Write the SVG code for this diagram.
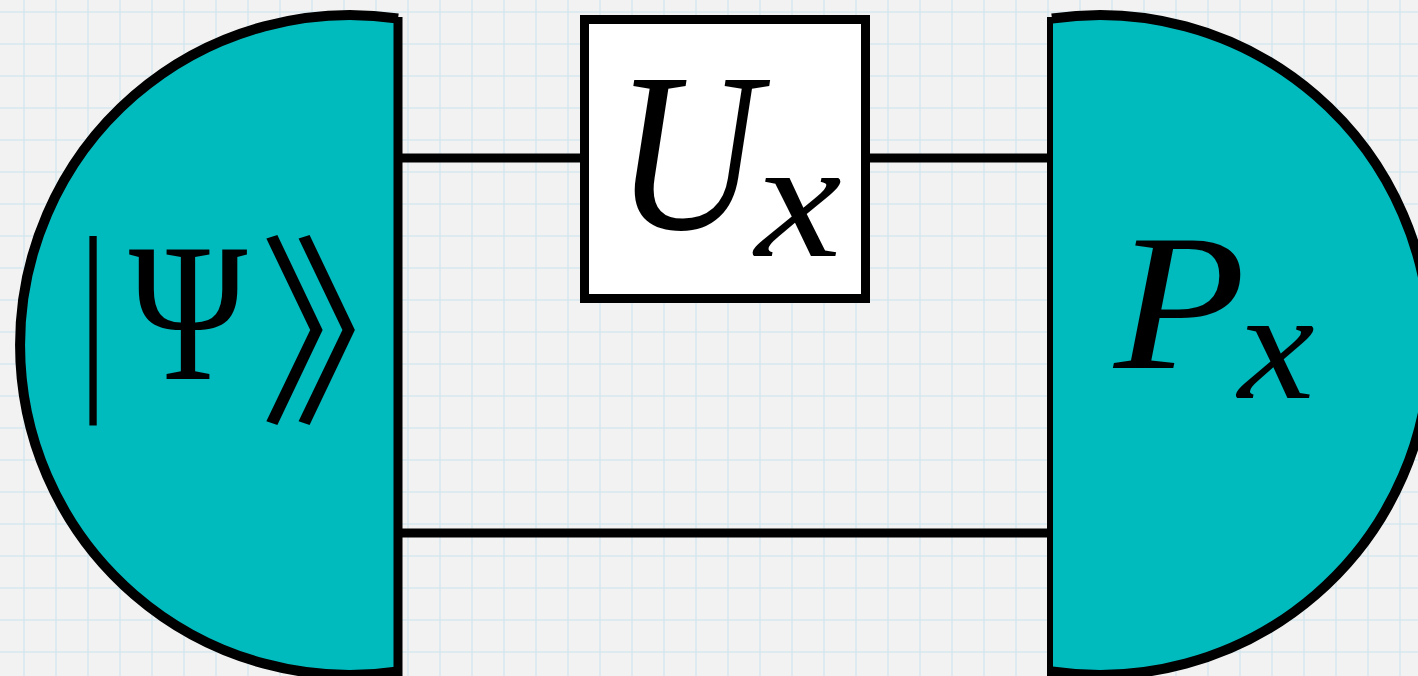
<svg xmlns="http://www.w3.org/2000/svg" width="1418" height="676" viewBox="0 0 1418 676">
<style>
.teal{fill:#00bbbe;stroke:none}
.edge{fill:none;stroke:#000;stroke-width:10}
.wire{stroke:#000;stroke-width:9;fill:none}
.math{font-family:"Liberation Serif","DejaVu Serif",serif;fill:#000}
.it{font-style:italic}
</style>
<defs>
<pattern id="grid" patternUnits="userSpaceOnUse" x="8" y="-4" width="32" height="32">
<path d="M16 0V32M0 16H32" stroke="#d6e7ee" stroke-width="1.5" fill="none"/>
</pattern>
</defs>
<rect width="1418" height="676" fill="#f2f2f2"/>
<rect width="1418" height="676" fill="url(#grid)"/>
<g id="connectors">
<line class="wire" x1="398" y1="158" x2="585" y2="158"/>
<line class="wire" x1="865" y1="158" x2="1052" y2="158"/>
<line class="wire" x1="398" y1="533" x2="1052" y2="533"/>
</g>
<g id="psi">
<path class="teal" d="M398,18.5 A330,330 0 1 0 398,671.5 Z"/>
<path class="edge" d="M398,18.5 A330,330 0 1 0 398,671.5"/>
<line x1="398" y1="17" x2="398" y2="676" stroke="#000" stroke-width="9"/>
<text transform="translate(93,383) scale(0.45,1)" font-size="202" text-anchor="middle" style="font-family:'Liberation Sans',sans-serif">|</text>
<text class="math" transform="translate(188,379) scale(0.82,1)" font-size="196" text-anchor="middle">Ψ</text>
<text x="361" y="408" font-size="204" text-anchor="middle" style="font-family:'Noto Sans CJK JP','Noto Sans CJK SC',sans-serif">》</text>
</g>
<g id="unitary">
<rect x="584.5" y="19.5" width="281" height="279" fill="#fff" stroke="#000" stroke-width="9"/>
<text class="math it" transform="translate(615,229) scale(0.88,1)" font-size="227">U</text>
<text class="math it" transform="translate(755,256) scale(1.15,1)" font-size="170">x</text>
</g>
<g id="measure">
<path class="teal" d="M1052,18.5 A330,330 0 1 1 1052,671.5 Z"/>
<path class="edge" d="M1052,18.5 A330,330 0 1 1 1052,671.5"/>
<line x1="1050" y1="17" x2="1050" y2="676" stroke="#000" stroke-width="6"/>
<text class="math it" transform="translate(1114,368) scale(1.1,1)" font-size="196">P</text>
<text class="math it" transform="translate(1238,398) scale(1.1,1)" font-size="157">x</text>
</g>
</svg>
